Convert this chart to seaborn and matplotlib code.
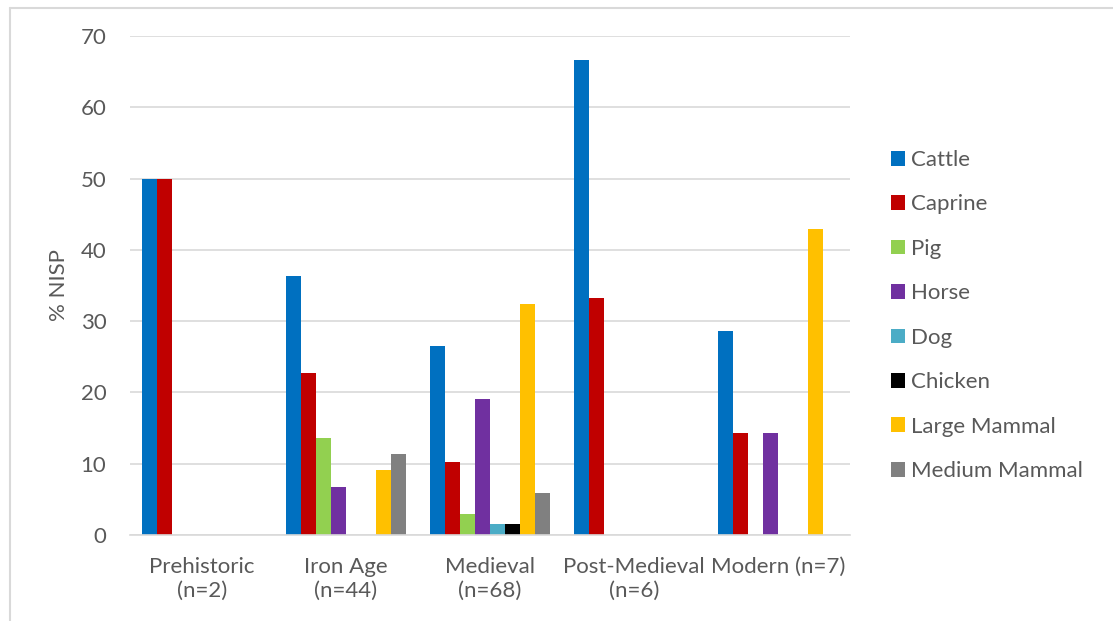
import matplotlib
matplotlib.use("Agg")
import matplotlib.pyplot as plt
from matplotlib.lines import Line2D
import seaborn as sns
import pandas as pd

# Percentage of NISP by taxon for each period
periods = ["Prehistoric\n(n=2)", "Iron Age\n(n=44)", "Medieval\n(n=68)",
           "Post-Medieval\n(n=6)", "Modern (n=7)"]
taxa = ["Cattle", "Caprine", "Pig", "Horse", "Dog", "Chicken",
        "Large Mammal", "Medium Mammal"]

cattle = [50.0, 36.4, 26.5, 66.7, 28.6]
caprine = [50.0, 22.7, 10.3, 33.3, 14.3]
pig = [0.0, 13.6, 2.9, 0.0, 0.0]
horse = [0.0, 6.8, 19.1, 0.0, 14.3]
dog = [0.0, 0.0, 1.5, 0.0, 0.0]
chicken = [0.0, 0.0, 1.5, 0.0, 0.0]
large_mammal = [0.0, 9.1, 32.4, 0.0, 42.9]
medium_mammal = [0.0, 11.4, 5.9, 0.0, 0.0]

colors = ["#0070c0", "#c00000", "#92d050", "#7030a0", "#4bacc6",
          "#000000", "#ffc000", "#808080"]

series = [cattle, caprine, pig, horse, dog, chicken, large_mammal, medium_mammal]
rows = []
for taxon, vals in zip(taxa, series):
    for period, v in zip(periods, vals):
        rows.append({"Period": period, "Taxon": taxon, "NISP": v})
df = pd.DataFrame(rows)

sns.set_theme(style="white")
plt.rcParams["font.family"] = ["Lato", "DejaVu Sans"]

text_col = "#595959"
grid_col = "#d9d9d9"
fs = 16

fig = plt.figure(figsize=(11.13, 6.21), dpi=100)
ax = fig.add_axes([130 / 1113, 1 - 535 / 621, 720 / 1113, 499 / 621])

sns.barplot(data=df, x="Period", y="NISP", hue="Taxon", order=periods,
            hue_order=taxa, palette=colors, width=0.84, gap=0,
            saturation=1, errorbar=None, ax=ax, legend=True, linewidth=0)

ax.set_ylim(0, 70)
ax.set_xlim(-0.5, len(periods) - 0.5)
ax.set_yticks(range(0, 71, 10))
ax.yaxis.grid(True, color=grid_col, linewidth=1.2)
ax.set_axisbelow(True)
for s in ["top", "right", "left"]:
    ax.spines[s].set_visible(False)
ax.spines["bottom"].set_color(grid_col)
ax.spines["bottom"].set_linewidth(1.2)

ax.set_xlabel("")
ax.set_ylabel("% NISP", fontsize=fs, color=text_col, labelpad=8)
ax.tick_params(axis="y", length=0, labelsize=fs, labelcolor=text_col, pad=17)
ax.tick_params(axis="x", which="major", length=0, labelsize=fs,
               labelcolor=text_col, pad=16)
for lbl in ax.get_xticklabels():
    lbl.set_linespacing(1.25)
ax.set_xticks([i - 0.5 for i in range(len(periods) + 1)], minor=True)
ax.tick_params(axis="x", which="minor", length=7, width=1.2, color=grid_col,
               direction="out")

handles, labels = ax.get_legend_handles_labels()
ax.get_legend().remove()
leg = fig.legend(handles, labels, loc="center left",
                 bbox_to_anchor=(891 / 1113, 1 - 315.5 / 621),
                 frameon=False, fontsize=fs, handlelength=0.65,
                 handleheight=0.65, handletextpad=0.25, labelspacing=1.1,
                 borderpad=0, borderaxespad=0)
for t in leg.get_texts():
    t.set_color(text_col)

# Thin outer frame along the left and top edges
fig.add_artist(Line2D([10 / 1113, 10 / 1113], [0, 1 - 7.5 / 621],
                      transform=fig.transFigure, color=grid_col, linewidth=1.5))
fig.add_artist(Line2D([10 / 1113, 1], [1 - 7.5 / 621, 1 - 7.5 / 621],
                      transform=fig.transFigure, color=grid_col, linewidth=1.5))

fig.savefig("out.png", dpi=100, facecolor="white")
